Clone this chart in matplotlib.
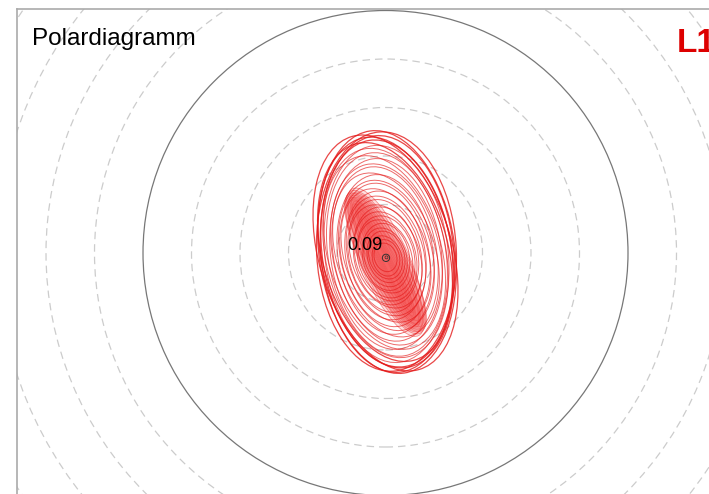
import matplotlib.pyplot as plt
from matplotlib.patches import Circle, Ellipse

# grid rings (in ring units), the solid one is the reference ring
ring_radii = [1, 2, 3, 4, 5, 6, 7, 8, 9, 10]
solid_ring = 5

# orbit loops: semi-axes, tilt (deg), centre offset
loop_a = [2.52, 2.47, 2.50, 2.45, 2.41, 2.36, 2.31, 2.25, 2.19, 2.12, 2.05,
          1.98, 1.90, 1.82, 1.74, 1.66, 1.58, 1.50, 1.42, 1.34, 1.26, 1.18,
          1.10, 1.02, 0.94, 0.86, 0.78, 0.70, 0.62, 0.54, 0.46, 0.38, 0.30]
loop_b = [1.40, 1.44, 1.38, 1.37, 1.35, 1.33, 1.30, 1.27, 1.24, 1.21, 1.17,
          1.14, 1.10, 1.06, 1.02, 0.98, 0.94, 0.90, 0.86, 0.82, 0.78, 0.74,
          0.70, 0.66, 0.62, 0.58, 0.53, 0.48, 0.43, 0.38, 0.33, 0.28, 0.23]
loop_ang = [98, 93, 106, 96, 101, 99, 105, 97, 102, 100, 106, 98, 103, 101,
            107, 99, 104, 102, 108, 100, 105, 103, 109, 101, 106, 104, 110,
            102, 107, 105, 111, 103, 108]
loop_dx = [0.03, 0.02, 0.00, 0.04, 0.01, 0.03, -0.01, 0.02, 0.00, 0.03,
           -0.02, 0.01, 0.02, -0.01, 0.01, 0.00, 0.02, -0.01, 0.01, 0.00,
           0.01, -0.01, 0.00, 0.01, 0.00, 0.01, 0.00, 0.01, 0.00, 0.01, 0.00,
           0.01, 0.00]
loop_dy = [0.02, 0.03, 0.00, -0.02, 0.01, -0.01, 0.02, -0.02, 0.00, -0.03,
           0.01, -0.02, -0.03, -0.02, -0.04, -0.03, -0.05, -0.04, -0.05,
           -0.05, -0.06, -0.06, -0.07, -0.06, -0.07, -0.08, -0.07, -0.08,
           -0.09, -0.08, -0.09, -0.10, -0.09]

# narrow loops forming the dense diagonal band
band_a = [1.66, 1.63, 1.60, 1.57, 1.54, 1.51, 1.48, 1.45, 1.41, 1.37, 1.33,
          1.29, 1.24, 1.18, 1.12, 1.04, 0.95, 0.85]
band_b = [0.50, 0.47, 0.44, 0.41, 0.38, 0.35, 0.32, 0.29, 0.26, 0.23, 0.20,
          0.17, 0.14, 0.12, 0.10, 0.08, 0.06, 0.04]
band_ang = [114, 116, 118, 115, 117, 119, 116, 118, 117, 119, 116, 118, 117,
            118, 117, 118, 116, 117]
band_cx, band_cy = 0.0, -0.19

centre_x, centre_y = 0.01, -0.10
ring_label = "0.09"
title = "Polardiagramm"
tag = "L1"

fig = plt.figure(figsize=(7.09, 4.94), dpi=100)
ax = fig.add_axes([17 / 709, 0, 692 / 709, 485 / 494])
ax.set_xlim(-7.598, 6.670)
ax.set_ylim(-4.969, 5.031)
ax.set_xticks([])
ax.set_yticks([])
for s in ["right", "bottom"]:
    ax.spines[s].set_visible(False)
for s in ["left", "top"]:
    ax.spines[s].set_color("#aaaaaa")
    ax.spines[s].set_linewidth(1.2)

for r in ring_radii:
    if r == solid_ring:
        ax.add_patch(Circle((0, 0), r, fill=False, ec="#777777", lw=0.9))
    else:
        ax.add_patch(Circle((0, 0), r, fill=False, ec="#cccccc", lw=0.9,
                            ls=(0, (6, 4))))

for a, b, ang in zip(band_a, band_b, band_ang):
    ax.add_patch(Ellipse((band_cx, band_cy), 2 * a, 2 * b, angle=ang,
                         fc=(0.97, 0.38, 0.38, 0.2), ec=(0.95, 0.32, 0.32, 0.6),
                         lw=0.6))

for i, (a, b, ang, dx, dy) in enumerate(
        zip(loop_a, loop_b, loop_ang, loop_dx, loop_dy)):
    ax.add_patch(Ellipse((dx, dy), 2 * a, 2 * b, angle=ang, fill=False,
                         ec="#e41a1a", lw=0.9 if i < 7 else 0.7,
                         alpha=0.8 if i < 7 else 0.65))

ax.add_patch(Circle((centre_x, centre_y), 0.075, fill=False, ec="#333333",
                    lw=0.7))
ax.add_patch(Circle((centre_x + 0.01, centre_y + 0.01), 0.03, fill=False,
                    ec="#333333", lw=0.5))

fig.text(347 / 709, 1 - 250 / 494, ring_label, fontsize=13,
         family="Liberation Sans", color="black", va="baseline")
fig.text(32 / 709, 1 - 45 / 494, title, fontsize=17.5,
         family="Liberation Sans", color="black", va="baseline")
fig.text(677 / 709, 1 - 52 / 494, tag, fontsize=24, weight="bold",
         family="Liberation Sans", color="#dd0000", va="baseline")

fig.savefig("out.png", dpi=100)
